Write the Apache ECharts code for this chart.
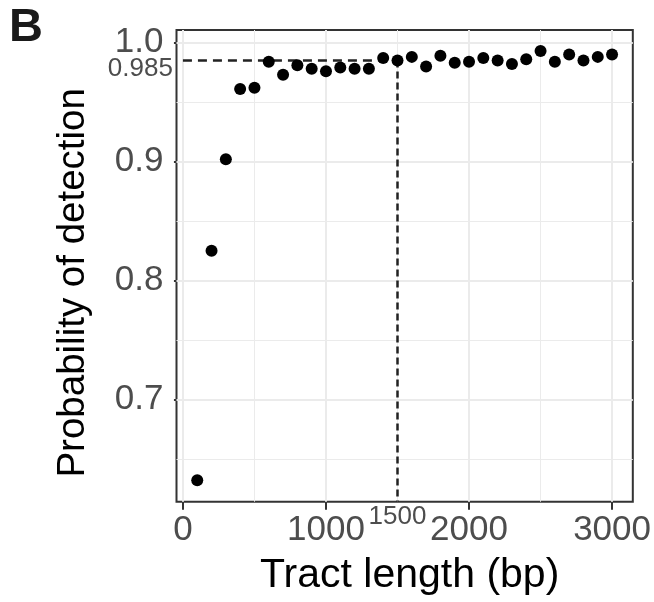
<!DOCTYPE html>
<html>
<head>
<meta charset="utf-8">
<script src="https://cdn.jsdelivr.net/npm/echarts@6/dist/echarts.min.js"></script>
<style>html,body{margin:0;padding:0;background:#fff;}#c{width:654px;height:602px;}</style>
</head>
<body>
<div id="c"></div>
<script>
// ---- data ----
const tractLengths = [100,200,300,400,500,600,700,800,900,1000,1100,1200,1300,1400,1500,1600,1700,1800,1900,2000,2100,2200,2300,2400,2500,2600,2700,2800,2900,3000];
const detectionProb = [0.632,0.825,0.902,0.961,0.962,0.984,0.973,0.981,0.978,0.976,0.979,0.978,0.978,0.987,0.985,0.988,0.980,0.989,0.983,0.984,0.987,0.985,0.982,0.986,0.993,0.984,0.990,0.985,0.988,0.990];
const xMajorTicks = [0,1000,2000,3000];
const xMinorTicks = [500,1500,2500];
const yMajorTicks = [0.7,0.8,0.9,1.0];
const yMinorTicks = [0.65,0.75,0.85,0.95];
const thresholdProb = 0.985;
const thresholdLength = 1500;
const xRange = [-45, 3145];
const yRange = [0.614, 1.0106];

const FONT = "'Liberation Sans', Arial, Helvetica, sans-serif";
const GRID = '#EBEBEB';
const DASH = '#222222';
const points = tractLengths.map((x,i)=>[x, detectionProb[i]]);

const gridLines = [];
xMajorTicks.forEach(v=>gridLines.push({xAxis:v, lineStyle:{width:2}}));
xMinorTicks.forEach(v=>gridLines.push({xAxis:v, lineStyle:{width:1}}));
yMajorTicks.forEach(v=>gridLines.push({yAxis:v, lineStyle:{width:2}}));
yMinorTicks.forEach(v=>gridLines.push({yAxis:v, lineStyle:{width:1}}));

const hStyle = {color:DASH, width:2.5, type:[9,6], opacity:1};
const vStyle = {color:DASH, width:2.5, type:[7,4], opacity:1};

const chart = echarts.init(document.getElementById('c'), null, {renderer:'canvas'});
chart.setOption({
  animation:false,
  backgroundColor:'#fff',
  title:{text:'B', left:4, top:0, textStyle:{fontFamily:FONT, fontSize:47, fontWeight:'bold', color:'#1a1a1a'}},
  grid:{left:176.5, right:21, top:30, bottom:100.3, show:true, borderColor:'#333333', borderWidth:2, backgroundColor:'transparent', containLabel:false},
  xAxis:{
    type:'value', min:xRange[0], max:xRange[1],
    name:'Tract length (bp)', nameLocation:'middle', nameGap:53,
    nameTextStyle:{fontFamily:FONT, fontSize:41, color:'#000', padding:[0,0,0,10]},
    axisLine:{show:false},
    axisTick:{show:true, length:8, customValues:xMajorTicks, lineStyle:{color:'#333', width:2}},
    axisLabel:{show:true, margin:11, customValues:xMajorTicks, fontFamily:FONT, fontSize:35, color:'#4D4D4D', formatter:v=>String(v)},
    splitLine:{show:false}
  },
  yAxis:{
    type:'value', min:yRange[0], max:yRange[1],
    name:'Probability of detection', nameLocation:'middle', nameGap:84, nameRotate:90,
    nameTextStyle:{fontFamily:FONT, fontSize:38.5, color:'#000', padding:[0,34,0,0]},
    axisLine:{show:false},
    axisTick:{show:true, length:9, customValues:yMajorTicks, lineStyle:{color:'#333', width:2}},
    axisLabel:{show:true, margin:13, customValues:yMajorTicks, fontFamily:FONT, fontSize:35, color:'#4D4D4D', formatter:v=>v.toFixed(1)},
    splitLine:{show:false}
  },
  series:[
    {
      type:'line', data:[], silent:true, z:1,
      markLine:{silent:true, symbol:['none','none'], label:{show:false}, animation:false,
        lineStyle:{color:GRID, type:'solid'}, data:gridLines}
    },
    {
      type:'line', data:[], silent:true, z:4,
      markLine:{silent:true, symbol:['none','none'], animation:false,
        lineStyle:hStyle,
        label:{show:true, position:'start', formatter:String(thresholdProb), distance:10, offset:[0,8], fontFamily:FONT, fontSize:26, color:'#4D4D4D'},
        data:[[{coord:[0, thresholdProb]}, {coord:[thresholdLength, thresholdProb]}]]}
    },
    {
      type:'line', data:[], silent:true, z:4,
      markLine:{silent:true, symbol:['none','none'], animation:false,
        lineStyle:vStyle,
        label:{show:true, position:'end', formatter:String(thresholdLength), distance:2, fontFamily:FONT, fontSize:26, color:'#4D4D4D'},
        data:[[{coord:[thresholdLength, thresholdProb]}, {coord:[thresholdLength, yRange[0]]}]]}
    },
    {
      type:'scatter', data:points, symbol:'circle', symbolSize:12, z:5,
      itemStyle:{color:'#000', opacity:1}
    }
  ]
});
</script>
</body>
</html>
